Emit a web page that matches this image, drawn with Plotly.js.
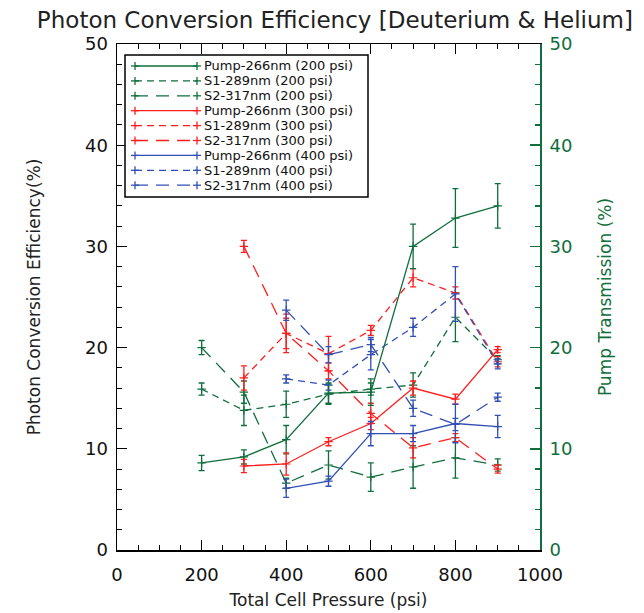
<!DOCTYPE html>
<html>
<head>
<meta charset="utf-8">
<script src="https://cdn.plot.ly/plotly-3.0.1.min.js"></script>
<style>html,body{margin:0;padding:0;background:#fff;}#chart{width:644px;height:613px;}</style>
</head>
<body>
<div id="chart"></div>
<script>
// Pressures (psi)
const p200 = [200, 300, 400, 500, 600, 700, 800, 900];
const p300 = [300, 400, 500, 600, 700, 800, 900];
const p400 = [400, 500, 600, 700, 800, 900];

// 200 psi series
const pump200 = [8.6, 9.2, 10.9, 15.5, 15.6, 30.0, 32.8, 34.0];
const pump200Err = [0.75, 0.7, 1.4, 1.0, 1.3, 2.2, 2.9, 2.2];
const s1_200 = [15.9, 13.8, 14.4, 15.4, 15.9, 16.3, 23.0, 18.8];
const s1_200Err = [0.6, 1.5, 1.3, 1.0, 0.6, 1.2, 2.4, 0.4];
const s2_200 = [20.0, 15.6, 6.6, 8.4, 7.2, 8.2, 9.1, 8.4];
const s2_200Err = [0.7, 1.1, 0.5, 1.4, 1.4, 2.1, 2.0, 0.6];

// 300 psi series
const pump300 = [8.3, 8.5, 10.7, 12.5, 16.0, 14.9, 19.8];
const pump300Err = [0.65, 1.1, 0.4, 0.6, 0.7, 0.5, 0.3];
const s1_300 = [17.0, 21.4, 19.4, 21.7, 26.9, 25.4, 18.6];
const s1_300Err = [1.2, 1.5, 1.7, 0.5, 0.9, 0.6, 0.5];
const s2_300 = [30.0, 21.4, 17.7, 13.5, 10.1, 11.1, 8.0];
const s2_300Err = [0.6, 1.9, 0.8, 1.0, 1.0, 0.4, 0.4];

// 400 psi series
const pump400 = [6.1, 6.8, 11.5, 11.5, 12.5, 12.2];
const pump400Err = [0.9, 0.5, 1.2, 0.8, 1.9, 1.1];
const s1_400 = [16.9, 16.3, 19.3, 22.0, 25.3, 18.4];
const s1_400Err = [0.4, 0.5, 1.5, 0.9, 2.7, 0.5];
const s2_400 = [23.7, 19.3, 20.3, 14.0, 12.4, 15.1];
const s2_400Err = [1.0, 0.8, 0.7, 0.8, 0.6, 0.4];

const names = [
  'Pump-266nm (200 psi)', 'S1-289nm (200 psi)', 'S2-317nm (200 psi)',
  'Pump-266nm (300 psi)', 'S1-289nm (300 psi)', 'S2-317nm (300 psi)',
  'Pump-266nm (400 psi)', 'S1-289nm (400 psi)', 'S2-317nm (400 psi)'
];

const GREEN = 'rgb(16,110,60)';
const RED = 'rgb(255,30,30)';
const BLUE = 'rgb(50,80,180)';
const SHORT = '7px,5px';
const LONG = '13px,8px';
const colors = [GREEN, GREEN, GREEN, RED, RED, RED, BLUE, BLUE, BLUE];
const dashes = ['solid', SHORT, LONG, 'solid', SHORT, LONG, 'solid', SHORT, LONG];

function tr(x, y, e, i, yax) {
  const color = colors[i];
  return {
    x: x, y: y, name: names[i], type: 'scatter', mode: 'lines+markers',
    yaxis: yax, showlegend: false,
    line: {color: color, width: 1.3, dash: dashes[i]},
    marker: {symbol: 'cross-thin', size: 6, line: {color: color, width: 1.2}, color: color},
    error_y: {type: 'data', array: e, visible: true, color: color, thickness: 1.3, width: 3}
  };
}

const data = [
  tr(p200, pump200, pump200Err, 0, 'y2'),
  tr(p200, s1_200, s1_200Err, 1, 'y'),
  tr(p200, s2_200, s2_200Err, 2, 'y'),
  tr(p300, pump300, pump300Err, 3, 'y2'),
  tr(p300, s1_300, s1_300Err, 4, 'y'),
  tr(p300, s2_300, s2_300Err, 5, 'y'),
  tr(p400, pump400, pump400Err, 6, 'y2'),
  tr(p400, s1_400, s1_400Err, 7, 'y'),
  tr(p400, s2_400, s2_400Err, 8, 'y')
];

// ---- Boxed key drawn in the top-left corner of the plot (paper coords) ----
const M = {l: 117, r: 104, t: 44, b: 63};
const PW = 644 - M.l - M.r, PH = 613 - M.t - M.b;
const px = (X) => (X - M.l) / PW;          // pixel -> paper x
const py = (Y) => (613 - M.b - Y) / PH;    // pixel -> paper y

const shapes = [{
  type: 'rect', xref: 'paper', yref: 'paper', layer: 'above',
  x0: px(125), x1: px(368), y0: py(197), y1: py(55),
  line: {color: '#000', width: 1.5}, fillcolor: '#fff'
}];
const annotations = [];
names.forEach((n, i) => {
  const Y = 66 + i * 14.9;
  shapes.push({type: 'line', xref: 'paper', yref: 'paper', layer: 'above',
    x0: px(135), x1: px(197), y0: py(Y), y1: py(Y),
    line: {color: colors[i], width: 1.3, dash: dashes[i]}});
  [135, 197].forEach(X => {
    shapes.push({type: 'line', xref: 'paper', yref: 'paper', layer: 'above',
      x0: px(X), x1: px(X), y0: py(Y - 4), y1: py(Y + 4), line: {color: colors[i], width: 1.3}});
    shapes.push({type: 'line', xref: 'paper', yref: 'paper', layer: 'above',
      x0: px(X - 4), x1: px(X + 4), y0: py(Y), y1: py(Y), line: {color: colors[i], width: 1.3}});
  });
  annotations.push({xref: 'paper', yref: 'paper', x: px(203), y: py(Y), xanchor: 'left', yanchor: 'middle',
    text: n, showarrow: false, borderpad: 0, font: {size: 13, color: '#111'}});
});

const FONT = 'DejaVu Sans, sans-serif';

const layout = {
  width: 644, height: 613,
  margin: M,
  paper_bgcolor: '#fff', plot_bgcolor: '#fff',
  font: {family: FONT, size: 17, color: '#111'},
  showlegend: false,
  shapes: shapes, annotations: annotations,
  title: {text: 'Photon Conversion Efficiency [Deuterium &amp; Helium]', font: {family: FONT, size: 23, color: '#222'},
          xref: 'container', yref: 'container', x: 0.52, xanchor: 'center', y: 0.967, yanchor: 'middle'},
  xaxis: {
    range: [0, 1000], dtick: 200, tick0: 0,
    showgrid: false, zeroline: false,
    showline: true, linecolor: '#000', linewidth: 1.5, mirror: 'ticks',
    ticks: 'inside', ticklen: 10, tickwidth: 1.2, tickcolor: '#000',
    minor: {dtick: 50, ticks: 'inside', ticklen: 5, tickcolor: '#000', tickwidth: 1},
    tickfont: {size: 18, color: '#111'}, ticklabelstandoff: 8,
    title: {text: 'Total Cell Pressure (psi)', font: {size: 17, color: '#222'}, standoff: 10}
  },
  yaxis: {
    range: [0, 50], dtick: 10, tick0: 0,
    showgrid: false, zeroline: false,
    showline: true, linecolor: '#000', linewidth: 1.5,
    ticks: 'inside', ticklen: 10, tickwidth: 1.2, tickcolor: '#000',
    minor: {dtick: 2, ticks: 'inside', ticklen: 5, tickcolor: '#000', tickwidth: 1},
    tickfont: {size: 18, color: '#111'}, ticklabelstandoff: 4,
    title: {text: 'Photon Conversion Efficiency(%)', font: {size: 17, color: '#222'}, standoff: 40}
  },
  yaxis2: {
    range: [0, 50], dtick: 10, tick0: 0, overlaying: 'y', side: 'right',
    showgrid: false, zeroline: false,
    showline: true, linecolor: GREEN, linewidth: 2,
    ticks: 'inside', ticklen: 10, tickwidth: 1.5, tickcolor: GREEN,
    minor: {dtick: 2, ticks: 'inside', ticklen: 5, tickcolor: GREEN, tickwidth: 1.2},
    tickfont: {size: 18, color: GREEN}, ticklabelstandoff: 4,
    title: {text: 'Pump Transmission (%)', font: {size: 17, color: GREEN}, standoff: 28}
  }
};

Plotly.newPlot('chart', data, layout, {displayModeBar: false, staticPlot: true});
</script>
</body>
</html>
